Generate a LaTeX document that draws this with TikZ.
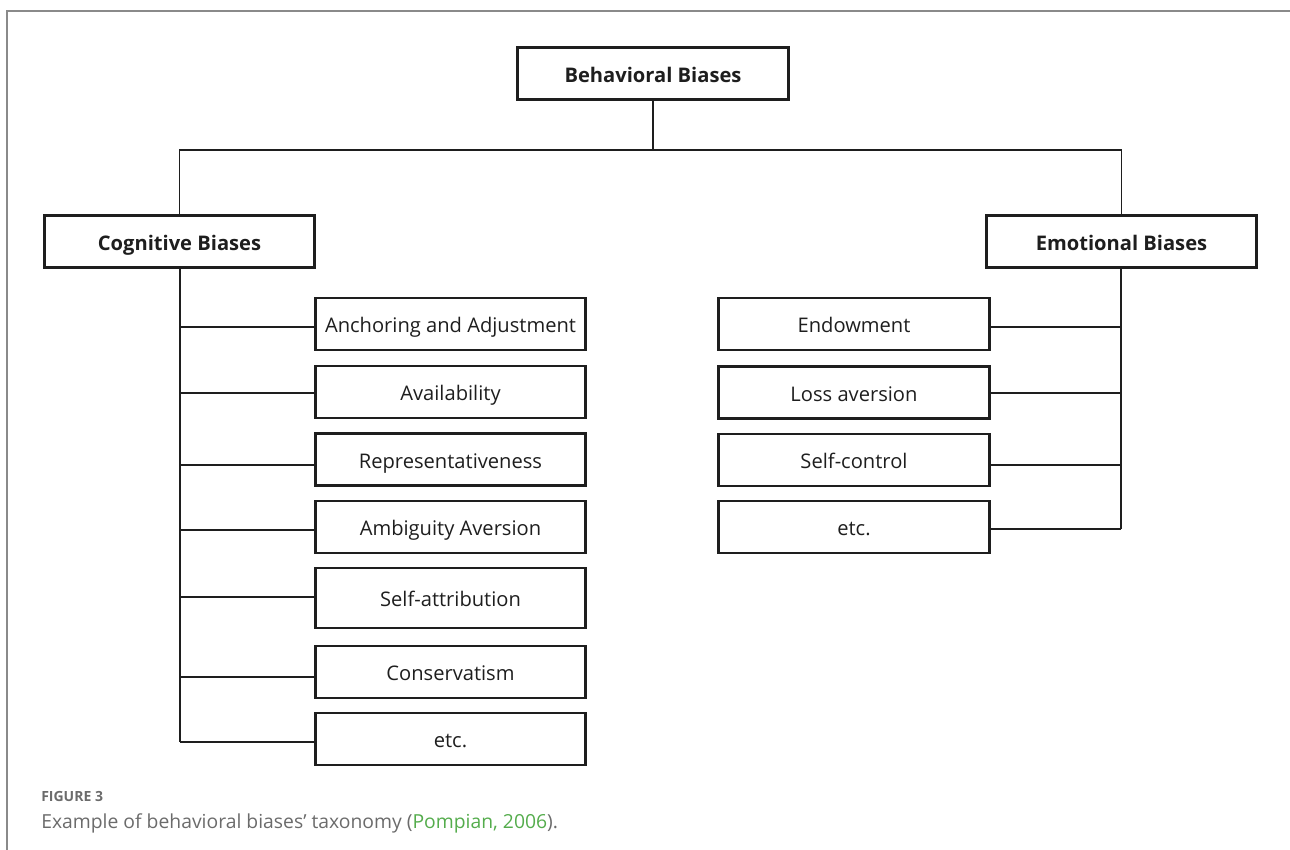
\documentclass[tikz,border=0pt]{standalone}
\usepackage{fontspec}
\setmainfont{Open Sans}
\definecolor{ink}{HTML}{1E1E1E}
\definecolor{frame}{HTML}{8A8A8A}
\definecolor{captext}{HTML}{6B6B6B}
\definecolor{citegreen}{RGB}{84,172,76}
\begin{document}
\begin{tikzpicture}[x=0.75pt,y=-0.75pt,
  box/.style={draw=ink, line width=2.2pt, rectangle, minimum width=203pt,
    minimum height=39pt, inner sep=0pt, text height=12.8pt, text depth=0pt,
    font=\fontsize{15.1}{17}\selectfont, text=ink},
  headbox/.style={box, font=\fontsize{15.1}{17}\selectfont\bfseries},
  link/.style={draw=ink, line width=1.1pt}]
\useasboundingbox (0,0) rectangle (1290,850);
% page frame
\draw[frame, line width=1.5pt] (7,850) -- (7,11) -- (1290,11);

% top level and the two branches
\node[headbox] (beh) at (653,73.5) {Behavioral Biases};
\node[headbox] (cog) at (179.5,241.5) {Cognitive Biases};
\node[headbox] (emo) at (1121.5,241.5) {Emotional Biases};
\coordinate (bar) at (653,150);
\draw[link] (beh.south) -- (bar);
\draw[link] (cog.north) -- (cog.north |- bar) -- (emo.north |- bar) -- (emo.north);

% cognitive biases
\node[box] (anc) at (450.5,324) {Anchoring and Adjustment};
\node[box] (ava) at (450.5,392) {Availability};
\node[box] (rep) at (450.5,459.5) {Representativeness};
\node[box] (amb) at (450.5,527) {Ambiguity Aversion};
\node[box, minimum height=45pt] (sat) at (450.5,598) {Self-attribution};
\node[box] (con) at (450.5,672) {Conservatism};
\node[box] (cet) at (450.5,739) {etc.};
\coordinate (ltrunk) at (180,742);
\draw[link] (cog.south -| ltrunk) -- (ltrunk);
\draw[link] (anc.west |- 0,327) -- (ltrunk |- 0,327);
\draw[link] (ava.west |- 0,393) -- (ltrunk |- 0,393);
\draw[link] (rep.west |- 0,465) -- (ltrunk |- 0,465);
\draw[link] (amb.west |- 0,530) -- (ltrunk |- 0,530);
\draw[link] (sat.west |- 0,597) -- (ltrunk |- 0,597);
\draw[link] (con.west |- 0,677) -- (ltrunk |- 0,677);
\draw[link] (cet.west |- 0,742) -- (ltrunk);

% emotional biases
\node[box] (end) at (854,324) {Endowment};
\node[box] (los) at (854,392.5) {Loss aversion};
\node[box] (sco) at (854,460) {Self-control};
\node[box] (eet) at (854,527) {etc.};
\coordinate (rtrunk) at (1121,529);
\draw[link] (emo.south -| rtrunk) -- (rtrunk);
\draw[link] (end.east |- 0,327) -- (rtrunk |- 0,327);
\draw[link] (los.east |- 0,393) -- (rtrunk |- 0,393);
\draw[link] (sco.east |- 0,465) -- (rtrunk |- 0,465);
\draw[link] (eet.east |- 0,529) -- (rtrunk);

% caption
\node[anchor=base west, inner sep=0pt, text=captext,
  font=\fontsize{10.5}{12}\selectfont\bfseries] (figlabel) at (41,801) {FIGURE 3};
\node[anchor=base west, inner sep=0pt, text=captext,
  font=\fontsize{14.5}{17}\selectfont] (figtext) at (41,828)
  {Example of behavioral biases’ taxonomy (\textcolor{citegreen}{Pompian, 2006}).};
\end{tikzpicture}
\end{document}
